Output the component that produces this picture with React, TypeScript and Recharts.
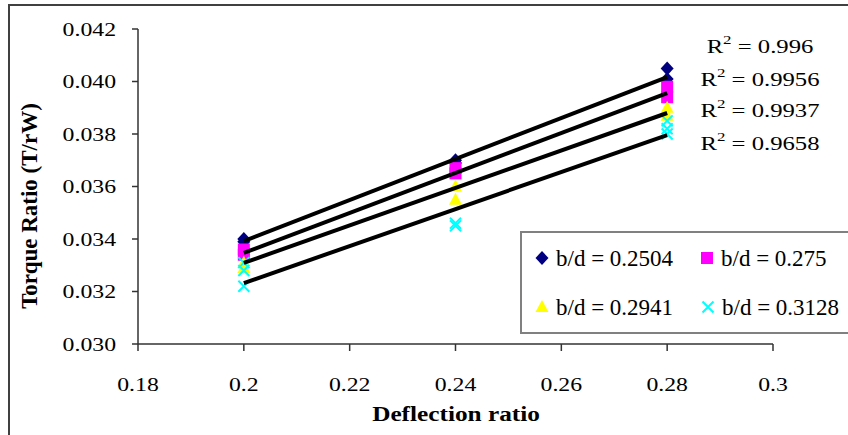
import React from "react"
import { ScatterChart, Scatter, XAxis, YAxis } from "recharts"

// deflection ratios tested, and torque ratio readings at each one
const DEFLECTION = [0.2, 0.24, 0.28]
const TORQUE_2504 = [[0.034, 0.0339], [0.037, 0.0369], [0.0405, 0.0401]]
const TORQUE_275 = [[0.0336, 0.0334], [0.0367, 0.0365], [0.0398, 0.0394]]
const TORQUE_2941 = [[0.0331, 0.0329], [0.036, 0.0355], [0.039, 0.0387]]
const TORQUE_3128 = [[0.0331, 0.0328, 0.0322], [0.0346, 0.0345], [0.0385, 0.0382, 0.038]]

// linear trend lines, value at first and last deflection
const TREND_ENDS = [0.2, 0.28]
const TREND_2504 = [0.03392, 0.04017]
const TREND_275 = [0.03347, 0.03956]
const TREND_2941 = [0.03309, 0.0388]
const TREND_3128 = [0.03232, 0.03796]
const R_SQUARED = ["0.996", "0.9956", "0.9937", "0.9658"]

const SERIES_NAMES = ["b/d = 0.2504", "b/d = 0.275", "b/d = 0.2941", "b/d = 0.3128"]
const X_TICKS = [0.18, 0.2, 0.22, 0.24, 0.26, 0.28, 0.3]
const Y_TICKS = [0.03, 0.032, 0.034, 0.036, 0.038, 0.04, 0.042]

const SERIF = "'Liberation Serif', 'Times New Roman', serif"
const AXIS = "#333"

const toPoints = (readings: number[][]) =>
    readings.flatMap((vals, i) => vals.map((y) => ({ x: DEFLECTION[i], y })))

const toTrend = (ends: number[]) => ends.map((y, i) => ({ x: TREND_ENDS[i], y }))

const Diamond = ({ cx, cy }: any) => (
    <polygon points={`${cx},${cy - 7} ${cx + 6.5},${cy} ${cx},${cy + 7} ${cx - 6.5},${cy}`} fill="#000080" />
)
const Square = ({ cx, cy }: any) => <rect x={cx - 6} y={cy - 6} width={12} height={12} fill="#FF00FF" />
const Triangle = ({ cx, cy }: any) => (
    <polygon points={`${cx},${cy - 7} ${cx + 6.5},${cy + 5} ${cx - 6.5},${cy + 5}`} fill="#FFFF00" />
)
const Cross = ({ cx, cy }: any) => (
    <path
        d={`M${cx - 5.5},${cy - 5.5}L${cx + 5.5},${cy + 5.5}M${cx + 5.5},${cy - 5.5}L${cx - 5.5},${cy + 5.5}`}
        stroke="#00FFFF"
        strokeWidth={2}
    />
)
const NoDot = () => <g />

const XTick = ({ x, y, payload }: any) => (
    <text transform={`translate(${x},${y + 38}) scale(1.25,1)`} textAnchor="middle" fontFamily={SERIF} fontSize={19} fill="#000">
        {String(payload.value)}
    </text>
)

const YTick = ({ x, y, payload }: any) => (
    <text transform={`translate(${x - 14},${y + 6.5}) scale(1.25,1)`} textAnchor="end" fontFamily={SERIF} fontSize={19} fill="#000">
        {payload.value.toFixed(3)}
    </text>
)

const MARKERS = [Diamond, Square, Triangle, Cross]
const LEGEND_POS = [
    [542, 258],
    [707, 258],
    [542, 307],
    [708, 307],
]
const R2_BASELINES = [53, 86, 117, 150]

export default function App() {
    const trendLine = { stroke: "#000", strokeWidth: 4 }
    return (
        <div style={{ position: "absolute", left: 0, top: 0, width: 848, height: 435, background: "#fff", overflow: "hidden" }}>
            <ScatterChart width={848} height={435} margin={{ top: 29, right: 75, bottom: 0, left: 0 }}>
                <XAxis
                    type="number"
                    dataKey="x"
                    domain={[0.18, 0.3]}
                    ticks={X_TICKS}
                    interval={0}
                    height={91}
                    tickSize={7}
                    axisLine={{ stroke: AXIS, strokeWidth: 1.5 }}
                    tickLine={{ stroke: AXIS, strokeWidth: 1.5 }}
                    tick={<XTick />}
                    allowDataOverflow
                />
                <YAxis
                    type="number"
                    dataKey="y"
                    domain={[0.03, 0.042]}
                    ticks={Y_TICKS}
                    interval={0}
                    width={138}
                    tickSize={6}
                    axisLine={{ stroke: AXIS, strokeWidth: 1.5 }}
                    tickLine={{ stroke: AXIS, strokeWidth: 1.5 }}
                    tick={<YTick />}
                    allowDataOverflow
                />
                <Scatter data={toPoints(TORQUE_2504)} shape={Diamond} isAnimationActive={false} />
                <Scatter data={toPoints(TORQUE_275)} shape={Square} isAnimationActive={false} />
                <Scatter data={toPoints(TORQUE_2941)} shape={Triangle} isAnimationActive={false} />
                <Scatter data={toPoints(TORQUE_3128)} shape={Cross} isAnimationActive={false} />
                <Scatter data={toTrend(TREND_2504)} line={trendLine} shape={NoDot} isAnimationActive={false} />
                <Scatter data={toTrend(TREND_275)} line={trendLine} shape={NoDot} isAnimationActive={false} />
                <Scatter data={toTrend(TREND_2941)} line={trendLine} shape={NoDot} isAnimationActive={false} />
                <Scatter data={toTrend(TREND_3128)} line={trendLine} shape={NoDot} isAnimationActive={false} />
            </ScatterChart>

            {/* frame, titles, R² notes and legend */}
            <svg width={848} height={435} style={{ position: "absolute", left: 0, top: 0, pointerEvents: "none" }}>
                <path d="M9,435V5H848" fill="none" stroke="#404040" strokeWidth={2} />
                <text
                    transform="translate(37,206) rotate(-90)"
                    textAnchor="middle"
                    fontFamily={SERIF}
                    fontWeight="bold"
                    fontSize={23}
                >
                    Torque Ratio (T/rW)
                </text>
                <text
                    transform="translate(456,421) scale(1.15,1)"
                    textAnchor="middle"
                    fontFamily={SERIF}
                    fontWeight="bold"
                    fontSize={22}
                >
                    Deflection ratio
                </text>

                {R_SQUARED.map((r, i) => (
                    <text
                        key={r}
                        transform={`translate(760,${R2_BASELINES[i]}) scale(1.3,1)`}
                        textAnchor="middle"
                        fontFamily={SERIF}
                        fontSize={19}
                    >
                        <tspan>R</tspan>
                        <tspan dy={-9} fontSize={13}>2</tspan>
                        <tspan dy={9}> = {r}</tspan>
                    </text>
                ))}

                <rect x={521} y={232} width={340} height={101} fill="#fff" stroke="#808080" strokeWidth={2} />
                {SERIES_NAMES.map((name, i) => {
                    const Marker = MARKERS[i]
                    const [mx, my] = LEGEND_POS[i]
                    return (
                        <g key={name}>
                            <Marker cx={mx} cy={my} />
                            <text x={mx + 14} y={my + 8} fontFamily={SERIF} fontSize={23}>
                                {name}
                            </text>
                        </g>
                    )
                })}
            </svg>
        </div>
    )
}
